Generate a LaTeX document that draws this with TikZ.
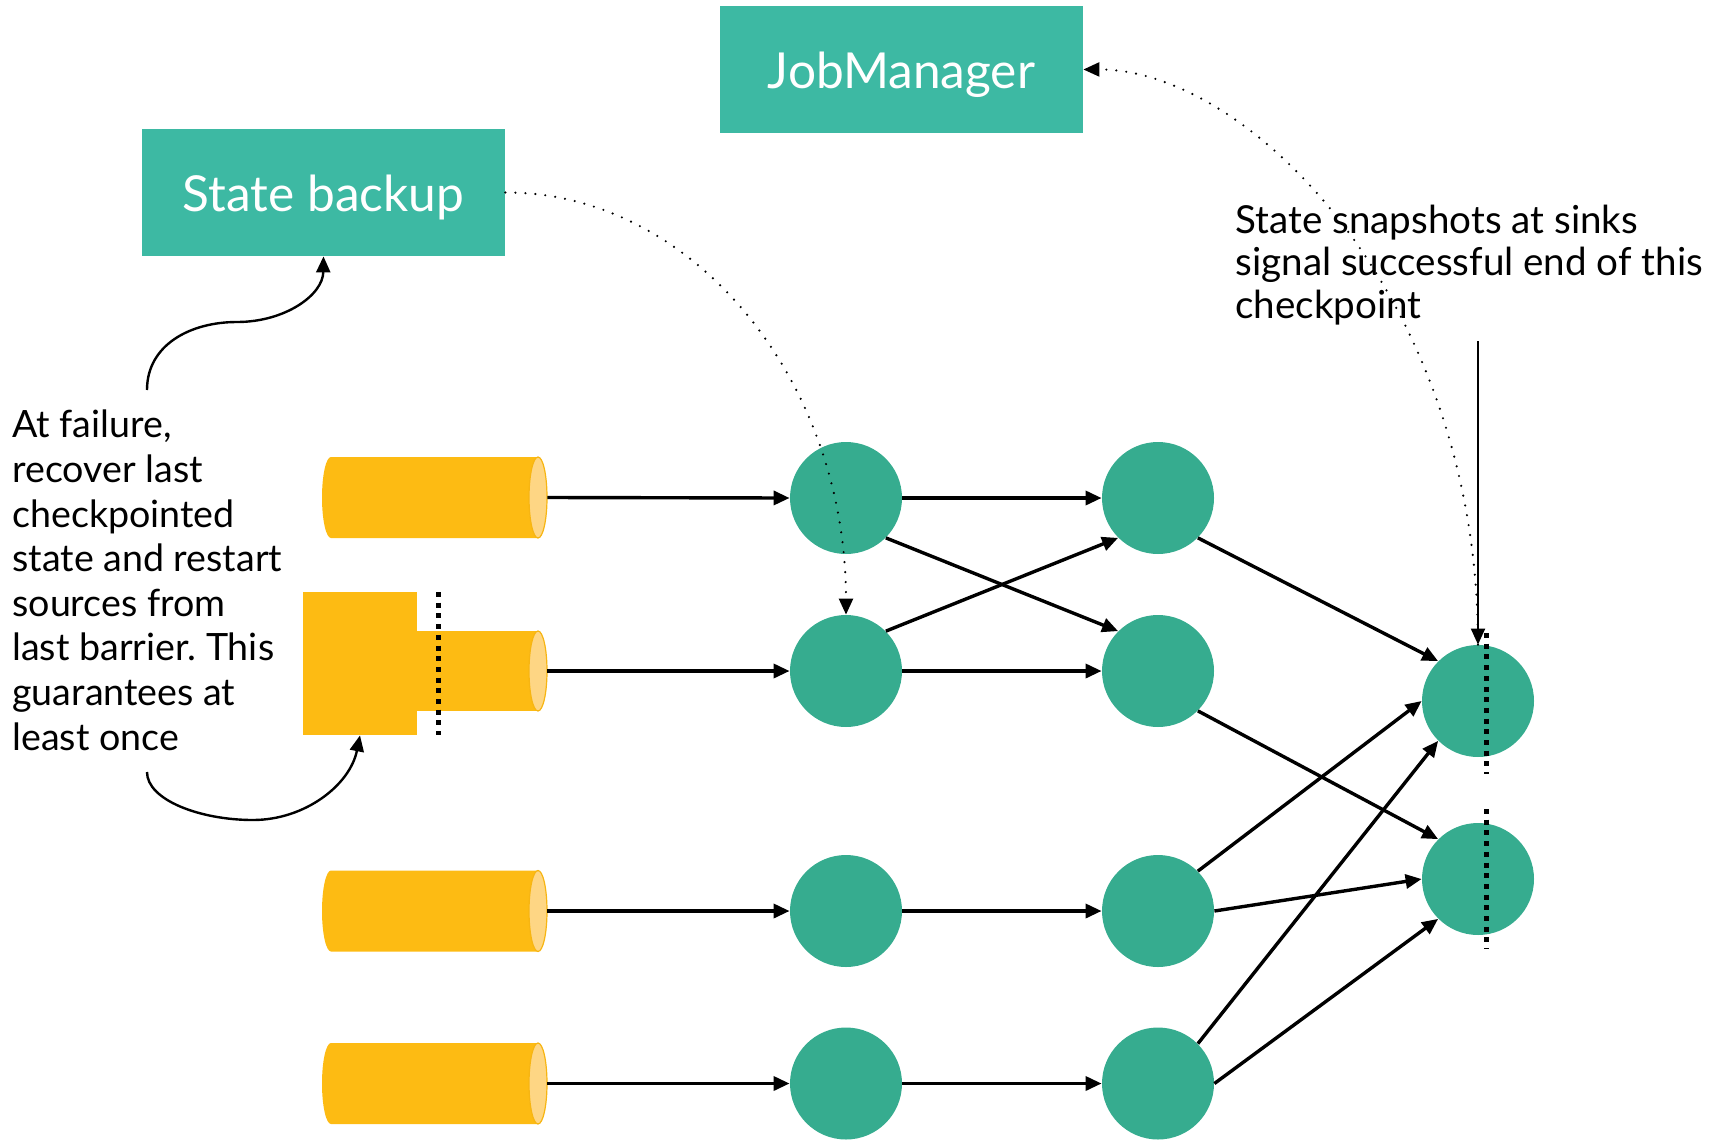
\documentclass[tikz,border=0pt]{standalone}
\usepackage{fontspec}
\setmainfont{Lato}
\usetikzlibrary{arrows.meta}
\frenchspacing

\definecolor{boxteal}{HTML}{3DB9A3}
\definecolor{opteal}{HTML}{36AC8F}
\definecolor{srcyellow}{HTML}{FDBB13}
\definecolor{srcedge}{HTML}{F7B512}
\definecolor{srccap}{HTML}{FED684}

% one source: body from x=#1 to the end cap centred at x=#2, centre line y=#3
\newcommand\sourcebody[3]{%
  \fill[srcyellow] (#2,#3-40.5) -- (#1,#3-40.5)
    arc[start angle=90,end angle=270,x radius=4.5pt,y radius=20.25pt]
    -- (#2,#3+40.5) -- cycle;
  \filldraw[fill=srccap,draw=srcedge,line width=0.6pt]
    (#2,#3) ellipse[x radius=4.5pt,y radius=20.25pt];
}

\begin{document}
\begin{tikzpicture}[x=0.5pt,y=-0.5pt,
  mgr/.style={fill=boxteal,text=white,inner sep=0,minimum width=181.5pt,
    minimum height=63.5pt,text height=19pt,text depth=0pt,
    font=\fontsize{24.8}{28}\selectfont},
  op/.style={circle,fill=opteal,minimum size=56pt,inner sep=0},
  srcnode/.style={inner sep=0,minimum width=112.5pt,minimum height=40.5pt},
  tip/.style={-{Triangle[length=8pt,width=7pt]}},
  flow/.style={tip,line width=1.7pt},
  dotconn/.style={tip,line width=1.2pt,line cap=round,dash pattern=on 0pt off 5pt},
  annot/.style={tip,line width=1.2pt},
  barrier/.style={line width=2.5pt,dash pattern=on 2.5pt off 2.85pt},
  note/.style={anchor=base west,align=left,inner sep=0}]

\useasboundingbox (0,0) rectangle (1723,1140);

% managers
\node[mgr] (jm) at (901.5,69.5) {JobManager};
\node[mgr] (sb) at (323.5,192.5) {State backup};

% sources
\sourcebody{331}{538}{497.5}
\node[srcnode] (src1) at (434.5,497.5) {};
\fill[srcyellow] (417,631) rectangle (538,711);
\filldraw[fill=srccap,draw=srcedge,line width=0.6pt]
  (538,671) ellipse[x radius=4.5pt,y radius=20pt];
\node[fill=srcyellow,inner sep=0,minimum width=57pt,minimum height=71.5pt] (rewind) at (360,663.5) {};
\node[inner sep=0,minimum width=65pt,minimum height=40pt] (src2) at (482,671) {};
\sourcebody{331}{538}{911}
\node[srcnode] (src3) at (434.5,911) {};
\sourcebody{331}{538}{1083.5}
\node[srcnode] (src4) at (434.5,1083.5) {};

% operators
\node[op] (c11) at (846,498) {};
\node[op] (c12) at (846,671) {};
\node[op] (c13) at (846,911) {};
\node[op] (c14) at (846,1083.5) {};
\node[op] (c21) at (1158,498) {};
\node[op] (c22) at (1158,671) {};
\node[op] (c23) at (1158,911) {};
\node[op] (c24) at (1158,1083.5) {};
\node[op] (s1) at (1478,701) {};
\node[op] (s2) at (1478,879) {};

% data flow
\draw[flow] (src1.east) -- (c11.west);
\draw[flow] (src2.east) -- (c12.west);
\draw[flow] (src3.east) -- (c13.west);
\draw[flow] (src4.east) -- (c14.west);
\draw[flow] (c11.east) -- (c21.west);
\draw[flow] (c11.south east) -- (c22.north west);
\draw[flow] (c12.north east) -- (c21.south west);
\draw[flow] (c12.east) -- (c22.west);
\draw[flow] (c13.east) -- (c23.west);
\draw[flow] (c14.east) -- (c24.west);
\draw[flow] (c21.south east) -- (s1.north west);
\draw[flow] (c22.south east) -- (s2.north west);
\draw[flow] (c23.north east) -- (s1.west);
\draw[flow] (c23.east) -- (s2.west);
\draw[flow] (c24.north east) -- (s1.south west);
\draw[flow] (c24.east) -- (s2.south west);

% barriers
\draw[barrier] (438,592) -- (438,735);
\draw[barrier] (1486,633) -- (1486,774);
\draw[barrier] (1486,809) -- (1486,949);

% notes (anchored on the baseline of their last line)
\node[note,font=\fontsize{18.8}{22.3}\selectfont] (failnote) at (12,750)
  {At failure,\\recover last\\checkpointed\\state and restart\\sources from\\last barrier. This\\guarantees at\\least once};
\node[note,font=\fontsize{19.3}{21.25}\selectfont] (snapnote) at (1235,318.3)
  {State snapshots at sinks\\signal successful end of this\\checkpoint};

\coordinate (failtop) at (147,390);
\coordinate (failbot) at (147,772);
\coordinate (snapfoot) at (1478,341);

\draw[annot] (failtop) .. controls (147,345) and (190,322) .. (237,322)
  .. controls (285,322) and (323,295) .. (sb.south);
\draw[annot] (failbot) .. controls (147,800) and (200,820) .. (253,820)
  .. controls (305,820) and (350,785) .. (rewind.south);
\draw[tip,line width=1pt] (snapfoot) -- (s1.north);

% checkpoint coordination
\draw[dotconn] (sb.east) .. controls (693,192) and (846,380) .. (c12.north);
\draw[dotconn] (s1.north) .. controls (1478,300) and (1250,69) .. (jm.east);
\end{tikzpicture}
\end{document}
